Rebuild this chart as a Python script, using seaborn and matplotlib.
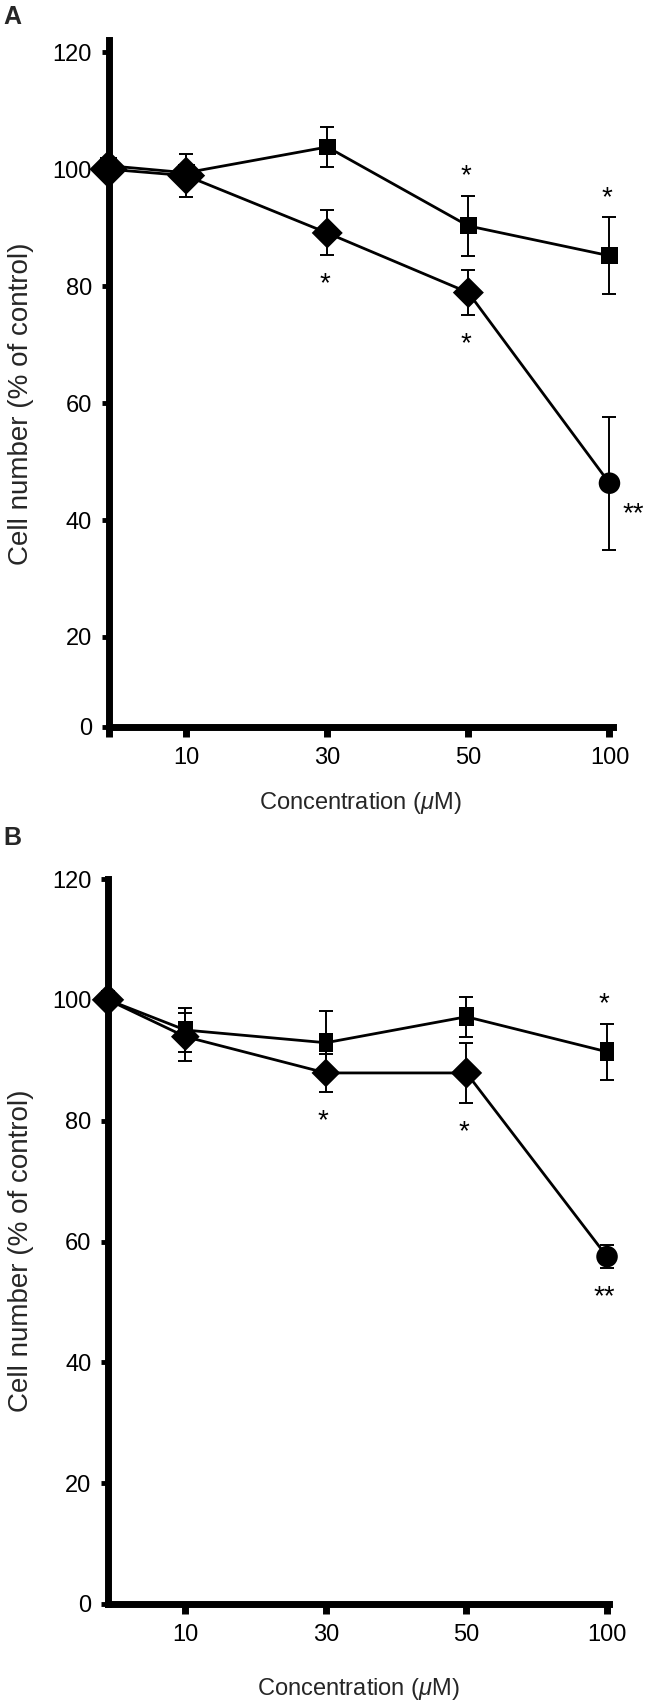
import matplotlib
matplotlib.use("Agg")
import matplotlib.pyplot as plt
import numpy as np
import pandas as pd
import seaborn as sns

sns.set_theme(style="white")
plt.rcParams["font.family"] = ["Liberation Sans", "DejaVu Sans"]
plt.rcParams["mathtext.fontset"] = "custom"
plt.rcParams["mathtext.rm"] = "Liberation Sans"
plt.rcParams["mathtext.it"] = "Liberation Sans:italic"

# concentrations (uM); 0 = control
CONC = [0, 10, 30, 50, 100]
CONC_TICKLABELS = ["", "10", "30", "50", "100"]

# panel A: squares / diamonds, mean and error
A_SQ_MEAN = [100.6, 99.4, 103.8, 90.3, 85.2]
A_SQ_ERR = [0.0, 1.2, 3.5, 5.1, 6.6]
A_SQ_SIG = ["", "", "", "*", "*"]
A_DM_MEAN = [100.0, 98.9, 89.1, 78.9, 46.3]
A_DM_ERR = [0.0, 3.65, 3.85, 3.85, 11.35]
A_DM_SIG = ["", "", "*", "*", "**"]

# panel B
B_SQ_MEAN = [100.0, 95.0, 92.9, 97.2, 91.4]
B_SQ_ERR = [0.0, 3.6, 5.3, 3.3, 4.6]
B_SQ_SIG = ["", "", "", "", "*"]
B_DM_MEAN = [100.0, 93.9, 87.9, 87.9, 57.5]
B_DM_ERR = [0.0, 4.0, 3.1, 5.0, 1.9]
B_DM_SIG = ["", "", "*", "*", "**"]

Y_TICKS = [0, 20, 40, 60, 80, 100, 120]

# category axis layout (control sits closer to the 10 uM point)
CAT_POS = {0: 0.45, 10: 1.0, 30: 2.0, 50: 3.0, 100: 4.0}

# marker shapes / sizes (pt) per point
A_SQ_MARKER = ["s"] * 5
A_SQ_MS = [12.2] * 5
A_DM_MARKER = ["D", "D", "D", "D", "o"]
A_DM_MS = [19.4, 19.4, 15.8, 15.8, 15.5]
TALL_SQ = [(-0.39, -0.5), (0.39, -0.5), (0.39, 0.5), (-0.39, 0.5), (-0.39, -0.5)]
B_SQ_MARKER = ["tall"] * 5
B_SQ_MS = [13.6] * 5
B_DM_MARKER = ["D", "D", "D", "D", "o"]
B_DM_MS = [16.5, 14.6, 14.6, 16.0, 15.5]

DPI = 100
W, H = 651, 1707


def build_frame(sq_mean, sq_err, sq_sig, sq_mk, sq_ms, dm_mean, dm_err, dm_sig, dm_mk, dm_ms):
    rows = []
    for series, mean, err, sig, mk, ms in [
        ("square", sq_mean, sq_err, sq_sig, sq_mk, sq_ms),
        ("diamond", dm_mean, dm_err, dm_sig, dm_mk, dm_ms),
    ]:
        for c, m, e, s, k, z in zip(CONC, mean, err, sig, mk, ms):
            rows.append({"series": series, "conc": c, "pos": CAT_POS[c], "mean": m,
                         "err": e, "sig": s, "marker": k, "ms": z})
    return pd.DataFrame(rows)


def draw_panel(ax, df, y_floor, y_top, x_right, dbl_star_right):
    sns.lineplot(data=df, x="pos", y="mean", units="series", estimator=None,
                 sort=False, color="black", lw=2.0, ax=ax, zorder=3, clip_on=False)
    eb = df[df["err"] > 0]
    ax.errorbar(eb["pos"], eb["mean"], yerr=eb["err"], fmt="none", ecolor="black",
                elinewidth=1.4, capsize=4.8, capthick=1.4, zorder=3, clip_on=False)

    df = df.copy()
    df["key"] = df["marker"] + "_" + df["ms"].astype(str)
    markers, sizes = {}, {}
    for key, mk, ms in df[["key", "marker", "ms"]].drop_duplicates().itertuples(index=False):
        markers[key] = TALL_SQ if mk == "tall" else mk
        sizes[key] = ms ** 2
    sns.scatterplot(data=df, x="pos", y="mean", style="key", markers=markers,
                    size="key", sizes=sizes, color="black", edgecolor="black",
                    linewidth=0, legend=False, ax=ax, zorder=4, clip_on=False)

    for row in df.itertuples(index=False):
        if not row.sig:
            continue
        if row.series == "square":
            xy, off = (row.pos, row.mean + row.err), (-2, 14)
        elif row.sig == "**" and dbl_star_right:
            xy, off = (row.pos, row.mean), (17, -22)
        else:
            xy, off = (row.pos, row.mean - row.err), (-2, -21)
        ax.annotate(row.sig, xy=xy, xytext=off, textcoords="offset points",
                    ha="center", va="center", fontsize=20, color="black",
                    annotation_clip=False)

    ax.set_xlim(CAT_POS[0], x_right)
    ax.set_ylim(y_floor, y_top)
    ax.set_yticks([y_floor] + Y_TICKS[1:])
    ax.set_yticklabels([str(t) for t in Y_TICKS], fontsize=17)
    ax.set_xlabel(r"Concentration ($\mathit{\mu}$M)", fontsize=17)
    ax.set_ylabel("Cell number (% of control)", fontsize=20)
    for side in ["top", "right"]:
        ax.spines[side].set_visible(False)
    for side in ["left", "bottom"]:
        ax.spines[side].set_linewidth(5)
        ax.spines[side].set_color("black")
    ax.tick_params(axis="y", direction="out", length=5, width=3.5, pad=7,
                   colors="black", labelsize=17, left=True)
    ax.tick_params(axis="x", direction="out", length=7.5, width=5, pad=7,
                   colors="black", labelsize=17, bottom=True)


fig = plt.figure(figsize=(W / DPI, H / DPI), dpi=DPI)

# panel A
ax_a = fig.add_axes([108.5 / W, 1 - 727 / H, 504.5 / W, 687 / H])
df_a = build_frame(A_SQ_MEAN, A_SQ_ERR, A_SQ_SIG, A_SQ_MARKER, A_SQ_MS,
                   A_DM_MEAN, A_DM_ERR, A_DM_SIG, A_DM_MARKER, A_DM_MS)
# panel A's drawn axis floor sits a little above the true zero in the original
draw_panel(ax_a, df_a, 4.6, 122.1, 4.025, True)
ax_a.set_xticks([CAT_POS[c] for c in CONC])
ax_a.set_xticklabels(CONC_TICKLABELS)
ax_a.xaxis.set_label_coords(0.5, -0.092)
ax_a.yaxis.set_label_coords(-0.148, 0.47)

# panel B
ax_b = fig.add_axes([108 / W, 1 - 1604 / H, 501 / W, 725 / H])
df_b = build_frame(B_SQ_MEAN, B_SQ_ERR, B_SQ_SIG, B_SQ_MARKER, B_SQ_MS,
                   B_DM_MEAN, B_DM_ERR, B_DM_SIG, B_DM_MARKER, B_DM_MS)
draw_panel(ax_b, df_b, 0, 120, 4.014, False)
ax_b.set_xticks([CAT_POS[c] for c in CONC[1:]])
ax_b.set_xticklabels(CONC_TICKLABELS[1:])
ax_b.xaxis.set_label_coords(0.5, -0.1)
ax_b.yaxis.set_label_coords(-0.148, 0.487)

fig.text(3 / W, 1 - 5 / H, "A", fontsize=18, fontweight="bold", ha="left", va="top")
fig.text(3 / W, 1 - 826 / H, "B", fontsize=18, fontweight="bold", ha="left", va="top")

fig.savefig("out.png", dpi=DPI)
plt.close(fig)
